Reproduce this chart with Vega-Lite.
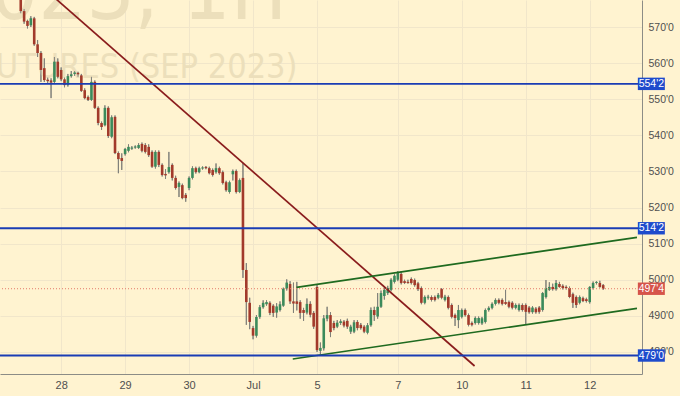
{
  "$schema": "https://vega.github.io/schema/vega-lite/v6.json",
  "width": 642,
  "height": 374,
  "autosize": "none",
  "padding": {"left": 0, "top": 0, "right": 38, "bottom": 22},
  "background": "#fff3d0",
  "config": {
    "view": {"stroke": null},
    "axis": {"ticks": false, "grid": true, "gridColor": "#f1e6ca", "gridWidth": 1, "domainColor": "#8c8c86", "domainWidth": 1, "labelColor": "#4f4f4f", "labelFont": "Liberation Sans", "labelFontSize": 10.5}
  },
  "datasets": {
    "candles": [
      {"n":1,"o":580,"h":582,"l":573.8,"c":574.4},
      {"n":2,"o":574.4,"h":575,"l":570.9,"c":571.5},
      {"n":3,"o":571.7,"h":572,"l":569.6,"c":570.3},
      {"n":4,"o":570.5,"h":573,"l":570,"c":572.4},
      {"n":5,"o":572.4,"h":572.8,"l":564.8,"c":565.2},
      {"n":6,"o":565.2,"h":566.4,"l":561.7,"c":562.8},
      {"n":7,"o":562.8,"h":563.3,"l":554.8,"c":558.1},
      {"n":8,"o":558.6,"h":561.3,"l":554.8,"c":555.3},
      {"n":9,"o":555.4,"h":556,"l":554.5,"c":555.0},
      {"n":10,"o":555.2,"h":555.8,"l":550.3,"c":554.6},
      {"n":11,"o":554.8,"h":561.7,"l":554.2,"c":560.4},
      {"n":12,"o":560.4,"h":561.3,"l":555.8,"c":556.2},
      {"n":13,"o":558.1,"h":558.8,"l":555.0,"c":555.5},
      {"n":14,"o":555.5,"h":556,"l":553.3,"c":553.9},
      {"n":15,"o":553.9,"h":557,"l":553.5,"c":556.4},
      {"n":16,"o":556.4,"h":557.8,"l":556,"c":556.9},
      {"n":17,"o":557.0,"h":557.8,"l":556.5,"c":557.4},
      {"n":18,"o":557.3,"h":557.6,"l":556.2,"c":556.9},
      {"n":19,"o":556.6,"h":557,"l":552,"c":552.3},
      {"n":20,"o":552.5,"h":553,"l":550,"c":550.3},
      {"n":21,"o":550.6,"h":551,"l":549.5,"c":549.8},
      {"n":22,"o":549.8,"h":556.2,"l":549.5,"c":554.8},
      {"n":23,"o":554.8,"h":555.2,"l":547.3,"c":547.6},
      {"n":24,"o":547.6,"h":548,"l":542.8,"c":543.4},
      {"n":25,"o":543.4,"h":543.8,"l":541.5,"c":542.3},
      {"n":26,"o":542.8,"h":548.3,"l":542.5,"c":547.6},
      {"n":27,"o":547.6,"h":548,"l":539.3,"c":539.8},
      {"n":28,"o":539.6,"h":545.5,"l":539.2,"c":545.0},
      {"n":29,"o":545.1,"h":545.5,"l":534.8,"c":535.1},
      {"n":30,"o":535.1,"h":535.5,"l":529.5,"c":533.4},
      {"n":31,"o":533.7,"h":535,"l":530.4,"c":532.9},
      {"n":32,"o":534.8,"h":536.5,"l":534.4,"c":536.2},
      {"n":33,"o":535.7,"h":537.5,"l":535.3,"c":536.8},
      {"n":34,"o":536.3,"h":537,"l":536,"c":536.6},
      {"n":35,"o":536.6,"h":537.2,"l":536.3,"c":536.9},
      {"n":36,"o":536.5,"h":537.8,"l":536.2,"c":537.3},
      {"n":37,"o":537.6,"h":538,"l":535.3,"c":535.7},
      {"n":38,"o":537.3,"h":537.8,"l":535.0,"c":535.4},
      {"n":39,"o":536.8,"h":537.5,"l":534.0,"c":534.5},
      {"n":40,"o":535.4,"h":535.8,"l":531.0,"c":531.3},
      {"n":41,"o":531.3,"h":535.8,"l":530.8,"c":535.4},
      {"n":42,"o":535.4,"h":535.8,"l":531.2,"c":531.8},
      {"n":43,"o":531.8,"h":532.2,"l":528.6,"c":529.0},
      {"n":44,"o":529.3,"h":530.6,"l":527.9,"c":528.9},
      {"n":45,"o":529.8,"h":535.4,"l":529.4,"c":531.2},
      {"n":46,"o":531.8,"h":532.2,"l":527.5,"c":528.2},
      {"n":47,"o":528.2,"h":528.8,"l":525,"c":525.4},
      {"n":48,"o":525.7,"h":527.2,"l":522.9,"c":526.8},
      {"n":49,"o":526.2,"h":526.6,"l":522.3,"c":522.6},
      {"n":50,"o":523.5,"h":524,"l":521.6,"c":522.6},
      {"n":51,"o":525.4,"h":528.6,"l":524.8,"c":528.2},
      {"n":52,"o":528.2,"h":531.4,"l":527.8,"c":530.9},
      {"n":53,"o":530.9,"h":531.3,"l":529.4,"c":529.8},
      {"n":54,"o":529.8,"h":531.3,"l":529.5,"c":530.9},
      {"n":55,"o":530.8,"h":531.4,"l":530.5,"c":531.1},
      {"n":56,"o":531.2,"h":531.5,"l":530.6,"c":530.9},
      {"n":57,"o":530.9,"h":531.3,"l":529.2,"c":529.5},
      {"n":58,"o":530.4,"h":530.8,"l":528.6,"c":529.0},
      {"n":59,"o":529.8,"h":532.2,"l":529.4,"c":530.9},
      {"n":60,"o":530.9,"h":531.3,"l":529.1,"c":529.5},
      {"n":61,"o":529.8,"h":530.2,"l":526.4,"c":526.8},
      {"n":62,"o":527.0,"h":527.4,"l":524.4,"c":524.8},
      {"n":63,"o":524.3,"h":527.4,"l":523.9,"c":527.0},
      {"n":64,"o":529.2,"h":530.5,"l":527.5,"c":530.1},
      {"n":65,"o":530.1,"h":530.5,"l":523.9,"c":524.3},
      {"n":66,"o":524.3,"h":528,"l":524,"c":527.6},
      {"n":67,"o":528.2,"h":532.3,"l":500.5,"c":502.7},
      {"n":68,"o":502.7,"h":504.6,"l":487.5,"c":493.8},
      {"n":69,"o":493.6,"h":495,"l":486.3,"c":488.3},
      {"n":70,"o":486.6,"h":487.2,"l":483.5,"c":484.5},
      {"n":71,"o":484.5,"h":490.2,"l":484,"c":489.7},
      {"n":72,"o":489.7,"h":493,"l":489.2,"c":492.4},
      {"n":73,"o":492.4,"h":494.3,"l":492,"c":493.6},
      {"n":74,"o":493.2,"h":494.3,"l":492.8,"c":493.8},
      {"n":75,"o":493.6,"h":494,"l":490.2,"c":490.8},
      {"n":76,"o":492.8,"h":493.2,"l":489.7,"c":490.8},
      {"n":77,"o":490.9,"h":493.5,"l":489.5,"c":492.6},
      {"n":78,"o":491.6,"h":494,"l":491.2,"c":493.2},
      {"n":79,"o":492.8,"h":497.8,"l":492.5,"c":497.5},
      {"n":80,"o":497.5,"h":500.1,"l":497,"c":499.2},
      {"n":81,"o":498.8,"h":499.6,"l":493.3,"c":494.0},
      {"n":82,"o":494.0,"h":499.2,"l":490.8,"c":493.4},
      {"n":83,"o":494.0,"h":499.4,"l":491.5,"c":493.3},
      {"n":84,"o":493.8,"h":494.3,"l":489.2,"c":490.8},
      {"n":85,"o":491.6,"h":492.2,"l":488.6,"c":490.8},
      {"n":86,"o":490.9,"h":494.8,"l":490.4,"c":493.3},
      {"n":87,"o":493.3,"h":494,"l":489.6,"c":490.3},
      {"n":88,"o":490.8,"h":491.3,"l":486.4,"c":487.0},
      {"n":89,"o":498.0,"h":498.6,"l":480.0,"c":480.5},
      {"n":90,"o":480.3,"h":482.6,"l":479.3,"c":481.1},
      {"n":91,"o":481.0,"h":490.2,"l":480.4,"c":489.3},
      {"n":92,"o":489.2,"h":492.5,"l":488.5,"c":490.2},
      {"n":93,"o":490.2,"h":491,"l":484.1,"c":485.5},
      {"n":94,"o":488.0,"h":488.6,"l":486.0,"c":486.6},
      {"n":95,"o":487.0,"h":488.8,"l":486.6,"c":488.1},
      {"n":96,"o":488.0,"h":489.0,"l":487.5,"c":488.5},
      {"n":97,"o":488.4,"h":488.8,"l":486.8,"c":487.3},
      {"n":98,"o":488.6,"h":489.2,"l":486.4,"c":487.0},
      {"n":99,"o":485.6,"h":487.5,"l":485.0,"c":487.0},
      {"n":100,"o":485.6,"h":488.8,"l":485.2,"c":488.2},
      {"n":101,"o":488.3,"h":488.8,"l":486.0,"c":486.6},
      {"n":102,"o":487.5,"h":488,"l":486.2,"c":486.6},
      {"n":103,"o":487.0,"h":487.4,"l":485.2,"c":485.6},
      {"n":104,"o":485.3,"h":488.0,"l":484.9,"c":487.4},
      {"n":105,"o":487.4,"h":492.3,"l":487,"c":491.6},
      {"n":106,"o":491.6,"h":492.5,"l":488.6,"c":490.2},
      {"n":107,"o":489.8,"h":496.3,"l":489.2,"c":492.5},
      {"n":108,"o":492.5,"h":497,"l":492.2,"c":496.3},
      {"n":109,"o":495.5,"h":498,"l":494.5,"c":497.2},
      {"n":110,"o":496.3,"h":498.3,"l":495.8,"c":497.7},
      {"n":111,"o":497.2,"h":500.4,"l":496.8,"c":500.0},
      {"n":112,"o":499.4,"h":501.5,"l":499,"c":501.1},
      {"n":113,"o":500.0,"h":502.4,"l":499.6,"c":501.9},
      {"n":114,"o":501.6,"h":502.4,"l":498.7,"c":499.1},
      {"n":115,"o":499.6,"h":500,"l":498.8,"c":499.1},
      {"n":116,"o":499.4,"h":500,"l":498.9,"c":499.1},
      {"n":117,"o":500.2,"h":500.6,"l":498.7,"c":499.1},
      {"n":118,"o":499.9,"h":500.3,"l":498.1,"c":498.5},
      {"n":119,"o":499.0,"h":499.4,"l":496.9,"c":497.4},
      {"n":120,"o":497.7,"h":498.1,"l":493.2,"c":493.6},
      {"n":121,"o":493.6,"h":495.6,"l":493.2,"c":495.2},
      {"n":122,"o":495.0,"h":495.8,"l":494.5,"c":495.3},
      {"n":123,"o":495.2,"h":495.6,"l":494.0,"c":494.4},
      {"n":124,"o":495.2,"h":495.6,"l":494.0,"c":494.4},
      {"n":125,"o":495.0,"h":496.3,"l":494.6,"c":495.8},
      {"n":126,"o":497.4,"h":497.7,"l":494.6,"c":495.0},
      {"n":127,"o":494.4,"h":495.8,"l":494,"c":495.3},
      {"n":128,"o":495.2,"h":495.6,"l":491.8,"c":492.2},
      {"n":129,"o":493.0,"h":493.4,"l":489.3,"c":489.7},
      {"n":130,"o":490.2,"h":490.6,"l":487.2,"c":489.4},
      {"n":131,"o":488.8,"h":493.0,"l":486.6,"c":491.6},
      {"n":132,"o":489.7,"h":492.0,"l":489.3,"c":491.6},
      {"n":133,"o":491.6,"h":492,"l":489.8,"c":490.2},
      {"n":134,"o":490.2,"h":490.6,"l":487.1,"c":487.5},
      {"n":135,"o":488.0,"h":488.4,"l":487.1,"c":487.5},
      {"n":136,"o":488.0,"h":489.8,"l":487.6,"c":489.4},
      {"n":137,"o":488.0,"h":489.8,"l":487.6,"c":489.4},
      {"n":138,"o":487.9,"h":489.7,"l":487.5,"c":489.3},
      {"n":139,"o":488.3,"h":492,"l":487.9,"c":491.6},
      {"n":140,"o":491.6,"h":492.6,"l":491.2,"c":492.2},
      {"n":141,"o":492.2,"h":493.7,"l":491.8,"c":493.3},
      {"n":142,"o":493.3,"h":494.8,"l":492.9,"c":494.4},
      {"n":143,"o":494.4,"h":494.8,"l":493.2,"c":493.6},
      {"n":144,"o":494.4,"h":494.8,"l":492.9,"c":493.3},
      {"n":145,"o":493.8,"h":497.2,"l":493,"c":493.3},
      {"n":146,"o":493.8,"h":494.2,"l":492.1,"c":492.5},
      {"n":147,"o":493.6,"h":494,"l":491.8,"c":492.2},
      {"n":148,"o":492.2,"h":493.4,"l":491.8,"c":493.0},
      {"n":149,"o":491.6,"h":493.4,"l":491.2,"c":493.0},
      {"n":150,"o":493.0,"h":493.4,"l":491.2,"c":491.6},
      {"n":151,"o":493.0,"h":493.4,"l":487.5,"c":491.1},
      {"n":152,"o":492.3,"h":492.7,"l":490.6,"c":491.0},
      {"n":153,"o":491.0,"h":492.7,"l":490.6,"c":492.3},
      {"n":154,"o":492.0,"h":492.4,"l":490.6,"c":491.0},
      {"n":155,"o":492.3,"h":492.7,"l":490.6,"c":491.1},
      {"n":156,"o":491.6,"h":496.6,"l":491.2,"c":496.3},
      {"n":157,"o":495.2,"h":499.9,"l":494.8,"c":497.7},
      {"n":158,"o":497.2,"h":499.3,"l":496.9,"c":498.0},
      {"n":159,"o":498.0,"h":498.9,"l":497.0,"c":497.4},
      {"n":160,"o":497.4,"h":499.9,"l":497.0,"c":499.1},
      {"n":161,"o":498.8,"h":499.4,"l":497.8,"c":498.0},
      {"n":162,"o":498.3,"h":498.7,"l":497.3,"c":497.7},
      {"n":163,"o":498.0,"h":498.4,"l":497.3,"c":497.7},
      {"n":164,"o":497.7,"h":498.1,"l":494.9,"c":495.2},
      {"n":165,"o":496.0,"h":496.4,"l":492.2,"c":493.6},
      {"n":166,"o":495.2,"h":495.6,"l":492.2,"c":493.0},
      {"n":167,"o":493.6,"h":495.6,"l":493.2,"c":495.2},
      {"n":168,"o":494.9,"h":495.3,"l":493.8,"c":494.1},
      {"n":169,"o":494.6,"h":495.0,"l":493.7,"c":494.1},
      {"n":170,"o":493.8,"h":498.2,"l":493.4,"c":498.0},
      {"n":171,"o":497.7,"h":499.5,"l":497.3,"c":499.1},
      {"n":172,"o":499.1,"h":499.6,"l":498.7,"c":499.4},
      {"n":173,"o":499.1,"h":499.7,"l":497.8,"c":498.0},
      {"n":174,"o":498.5,"h":498.8,"l":497.2,"c":497.5}
    ],
    "trend": [
      {"id":"brown","n":5,"p":583.06},
      {"id":"brown","n":135.8,"p":476.1},
      {"id":"upper","n":82.9,"p":497.9},
      {"id":"upper","n":184.04,"p":511.75},
      {"id":"lower","n":81.8,"p":478.03},
      {"id":"lower","n":184.04,"p":492.08}
    ],
    "levels": [
      {"level":554.25,"label":"554'2","kind":"level"},
      {"level":514.25,"label":"514'2","kind":"level"},
      {"level":479.0,"label":"479'0","kind":"level"}
    ],
    "tags": [
      {"level":554.25,"label":"554'2","kind":"level"},
      {"level":514.25,"label":"514'2","kind":"level"},
      {"level":479.0,"label":"479'0","kind":"level"},
      {"level":497.5,"label":"497'4","kind":"last"}
    ],
    "last": [{"level":497.5}]
  },
  "layer": [
    {
      "data": {"name": "candles"},
      "mark": {"type":"rule","color":"#80807a","strokeWidth":1},
      "encoding": {
        "x": {"field":"n","type":"quantitative","title":null,"scale":{"domain":[-3.678,184.04],"nice":false,"zero":false},
              "axis": {"orient":"bottom","title":null,"values":[13,32,51,70,89,113,132,151,170],"labelExpr":"['28','29','30','Jul','5','7','10','11','12'][indexof([13,32,51,70,89,113,132,151,170], datum.value)]","labelPadding":5,"labelFontSize":11,"labelFlush":false}},
        "y": {"field":"l","type":"quantitative","title":null,"scale":{"domain":[473.88,577.48],"nice":false,"zero":false},
              "axis": {"orient":"right","title":null,"values":[480,490,500,510,520,530,540,550,560,570],"labelExpr":"datum.value + \"'0\"","labelPadding":6,"labelFlush":false}},
        "y2": {"field":"h"}
      }
    },
    {
      "data": {"values": [{"t":"ZCU2023, 1H"}]},
      "mark": {"type":"text","align":"right","baseline":"alphabetic","font":"Liberation Sans Narrow, DejaVu Sans Condensed, sans-serif","fontSize":84,"color":"#ecdfbb"},
      "encoding": {
        "x": {"datum": 80.2, "type":"quantitative","title":null},
        "y": {"datum": 572.3, "type":"quantitative","title":null},
        "text": {"field":"t"}
      }
    },
    {
      "data": {"values": [{"t":"CORN FUTURES (SEP 2023)"}]},
      "mark": {"type":"text","align":"right","baseline":"alphabetic","font":"Liberation Sans Narrow, DejaVu Sans Condensed, sans-serif","fontSize":34,"color":"#ecdfbb"},
      "encoding": {
        "x": {"datum": 83.2, "type":"quantitative","title":null},
        "y": {"datum": 555.9, "type":"quantitative","title":null},
        "text": {"field":"t"}
      }
    },
    {
      "data": {"name": "candles"},
      "mark": {"type":"rule","color":"#80807a","strokeWidth":1},
      "encoding": {
        "x": {"field":"n","type":"quantitative","title":null},
        "y": {"field":"l","type":"quantitative","title":null},
        "y2": {"field":"h"}
      }
    },
    {
      "data": {"name": "candles"},
      "mark": {"type":"bar","size":2.6},
      "encoding": {
        "x": {"field":"n","type":"quantitative","title":null},
        "y": {"field":"o","type":"quantitative","title":null},
        "y2": {"field":"c"},
        "color": {"condition": {"test":"datum.c >= datum.o","value":"#3b8a5b"},"value":"#a23a2b"}
      }
    },
    {
      "data": {"name": "trend"},
      "mark": {"type":"line","strokeWidth":1.7,"clip":true},
      "encoding": {
        "x": {"field":"n","type":"quantitative","title":null},
        "y": {"field":"p","type":"quantitative","title":null},
        "detail": {"field":"id"},
        "color": {"condition": {"test":"datum.id === 'brown'","value":"#8a1c1c"},"value":"#1f6a1f"}
      }
    },
    {
      "data": {"name": "last"},
      "mark": {"type":"rule","color":"#e47a6a","strokeWidth":1,"strokeDash":[1,2]},
      "encoding": {
        "y": {"field":"level","type":"quantitative","title":null}
      }
    },
    {
      "data": {"name": "levels"},
      "mark": {"type":"rule","color":"#1a3cb4","strokeWidth":1.8},
      "encoding": {
        "y": {"field":"level","type":"quantitative","title":null}
      }
    },
    {
      "data": {"name": "tags"},
      "mark": {"type":"point","filled":true,"opacity":1,"shape":"M-1,-0.46L1,-0.46L1,0.46L-1,0.46Z","size":729,"strokeWidth":0},
      "encoding": {
        "x": {"datum": 188.3, "type":"quantitative","title":null},
        "y": {"field":"level","type":"quantitative","title":null},
        "color": {"condition": {"test":"datum.kind === 'last'","value":"#d6544a"},"value":"#1e4bcc"}
      }
    },
    {
      "data": {"name": "tags"},
      "mark": {"type":"text","color":"#ffffff","fontSize":10.5,"font":"Liberation Sans","align":"center","baseline":"middle"},
      "encoding": {
        "x": {"datum": 188.3, "type":"quantitative","title":null},
        "y": {"field":"level","type":"quantitative","title":null},
        "text": {"field":"label"}
      }
    }
  ]
}
